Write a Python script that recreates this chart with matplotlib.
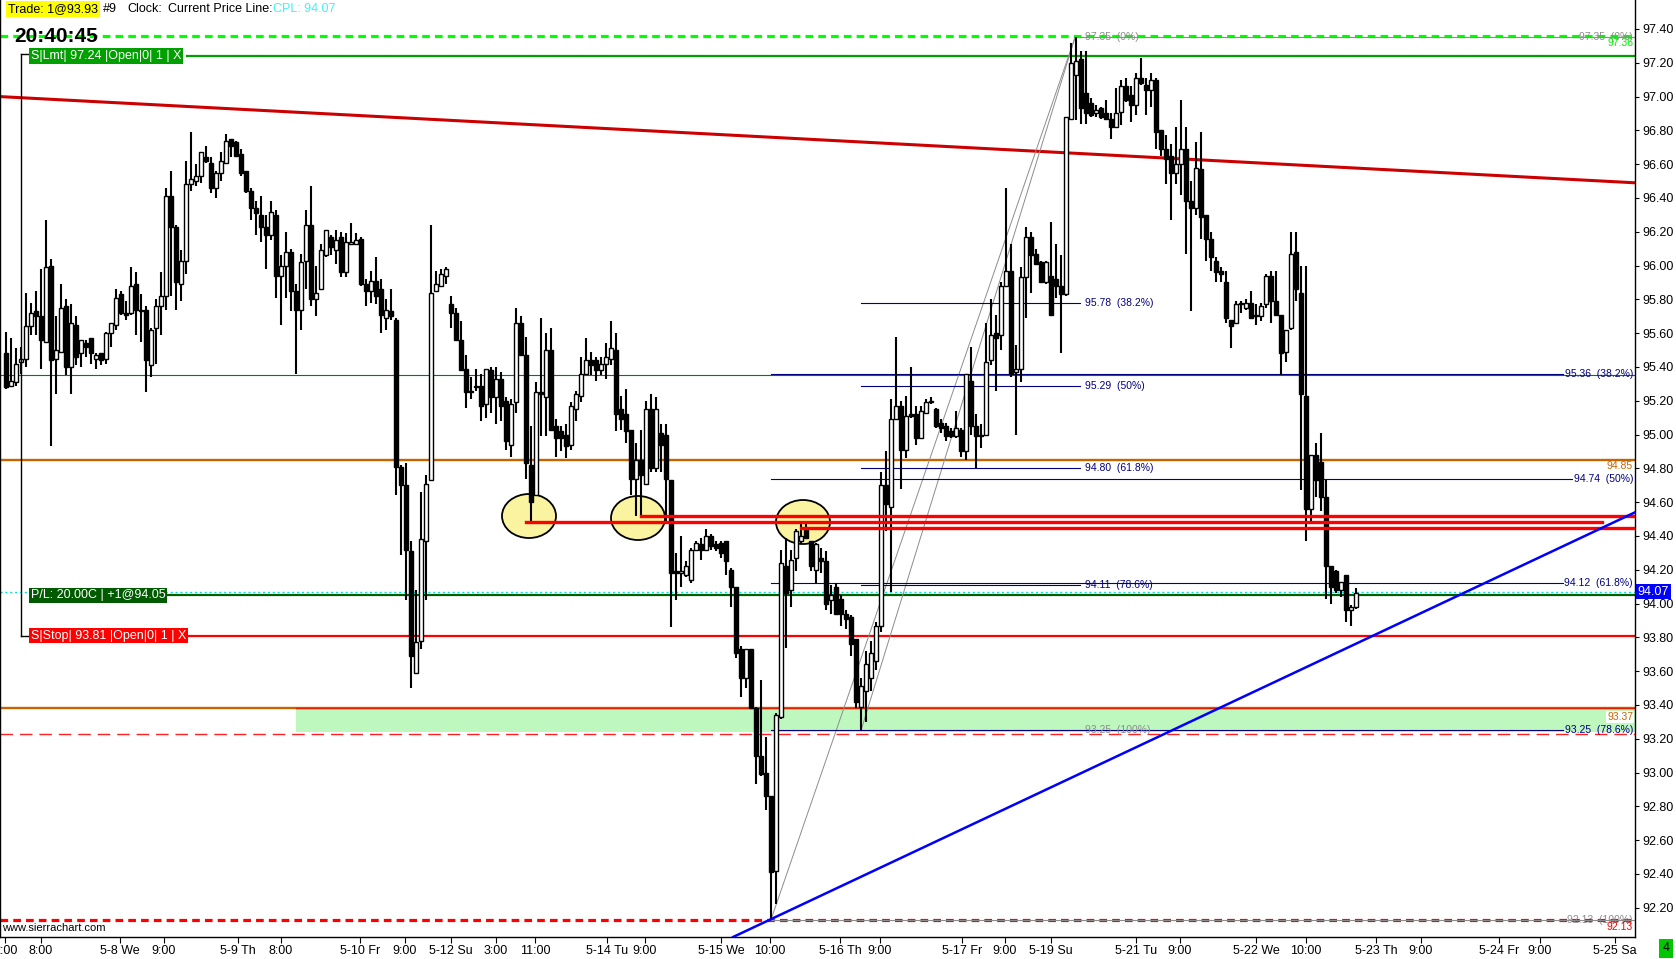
import matplotlib
matplotlib.use("Agg")
import matplotlib.pyplot as plt
import numpy as np
from matplotlib.patches import Ellipse, Rectangle

plt.rcParams['font.family'] = ['Liberation Sans', 'DejaVu Sans']

# hourly bars, crude oil, 5-7 .. 5-22
opens = [
    95.48, 95.29, 95.31, 95.43, 95.45, 95.64, 95.73, 95.70, 95.55, 96.00,
    95.45, 95.49, 95.76, 95.40, 95.65, 95.48, 95.54, 95.57, 95.45, 95.48,
    95.45, 95.60, 95.65, 95.83, 95.72, 95.72, 95.89, 95.73, 95.74, 95.41,
    95.63, 95.76, 95.82, 96.41, 96.23, 95.89, 96.03, 96.48, 96.50, 96.53,
    96.64, 96.61, 96.46, 96.55, 96.61, 96.75, 96.73, 96.66, 96.56, 96.44,
    96.34, 96.30, 96.23, 96.18, 96.30, 95.94, 96.00, 96.08, 95.85, 95.74,
    96.03, 96.24, 95.80, 95.86, 96.06, 96.17, 96.09, 96.17, 95.96, 96.13,
    96.13, 96.16, 95.89, 95.85, 95.91, 95.86, 95.69, 95.73, 95.68, 94.81,
    94.70, 94.31, 93.59, 93.78, 94.37, 94.73, 95.85, 95.88, 95.94, 95.77,
    95.72, 95.56, 95.39, 95.26, 95.29, 95.29, 95.18, 95.38, 95.22, 95.33,
    95.20, 94.94, 95.19, 95.66, 95.47, 94.82, 94.64, 95.25, 95.22, 95.50,
    95.05, 95.02, 95.00, 94.94, 95.15, 95.23, 95.36, 95.44, 95.44, 95.38,
    95.42, 95.45, 95.50, 95.15, 95.12, 95.03, 94.74, 94.85, 94.71, 95.15,
    94.80, 95.01, 95.00, 94.73, 94.19, 94.18, 94.17, 94.14, 94.32, 94.35,
    94.32, 94.40, 94.35, 94.36, 94.37, 94.20, 94.10, 93.73, 93.56, 93.73,
    93.38, 93.10, 93.00, 92.86, 92.42, 93.33, 94.22, 94.08, 94.27, 94.37,
    94.44, 94.37, 94.20, 94.27, 94.25, 94.02, 94.10, 94.03, 93.94, 93.92,
    93.79, 93.39, 93.48, 93.56, 93.66, 93.87, 94.70, 94.57, 95.09, 95.17,
    94.91, 95.12, 95.12, 94.98, 95.13, 95.19, 95.15, 95.07, 95.05, 95.02,
    94.99, 95.03, 94.90, 95.32, 95.05, 94.99, 95.00, 95.44, 95.60, 95.59,
    95.88, 95.97, 95.37, 95.39, 95.93, 96.17, 96.07, 96.02, 95.90, 95.94,
    95.92, 95.88, 95.83, 96.87, 97.13, 97.22, 97.02, 96.96, 96.90, 96.93,
    96.90, 96.87, 96.82, 96.91, 97.06, 97.01, 96.95, 97.11, 97.07, 97.04,
    97.10, 96.80, 96.69, 96.65, 96.55, 96.60, 96.69, 96.38, 96.34, 96.57,
    96.30, 96.16, 96.03, 95.97, 95.90, 95.68, 95.66, 95.78, 95.75, 95.78,
    95.70, 95.70, 95.77, 95.94, 95.79, 95.71, 95.49, 95.63, 96.08, 95.84,
    95.23, 94.56, 94.88, 94.84, 94.63, 94.22, 94.19, 94.08, 94.17, 93.96,
    93.98]
highs = [
    95.61, 95.57, 95.51, 95.52, 95.84, 95.78, 95.85, 95.98, 96.27, 96.04,
    95.70, 95.89, 95.80, 95.77, 95.70, 95.56, 95.56, 95.57, 95.48, 95.48,
    95.61, 95.66, 95.86, 95.85, 95.79, 95.99, 95.96, 95.83, 95.76, 95.63,
    95.80, 95.96, 96.46, 96.56, 96.24, 96.09, 96.62, 96.79, 96.60, 96.67,
    96.71, 96.64, 96.56, 96.67, 96.78, 96.75, 96.74, 96.69, 96.56, 96.46,
    96.38, 96.41, 96.30, 96.38, 96.33, 96.06, 96.20, 96.10, 95.89, 96.07,
    96.33, 96.47, 96.00, 96.13, 96.21, 96.18, 96.21, 96.20, 96.19, 96.25,
    96.19, 96.17, 95.92, 95.97, 96.05, 95.92, 95.80, 95.86, 95.69, 94.82,
    94.83, 94.37, 94.08, 94.66, 94.76, 96.24, 95.97, 95.98, 95.99, 95.82,
    95.75, 95.67, 95.47, 95.34, 95.39, 95.36, 95.39, 95.40, 95.40, 95.37,
    95.22, 95.21, 95.75, 95.70, 95.58, 95.05, 95.31, 95.69, 95.60, 95.63,
    95.09, 95.05, 95.06, 95.19, 95.26, 95.46, 95.57, 95.49, 95.46, 95.46,
    95.54, 95.67, 95.60, 95.23, 95.27, 95.03, 94.95, 95.03, 95.20, 95.24,
    95.22, 95.06, 95.06, 94.73, 94.30, 94.40, 94.25, 94.33, 94.37, 94.39,
    94.44, 94.41, 94.37, 94.37, 94.37, 94.21, 94.10, 93.75, 93.73, 93.73,
    93.39, 93.55, 93.21, 92.86, 93.35, 94.32, 94.39, 94.32, 94.44, 94.47,
    94.47, 94.37, 94.36, 94.33, 94.31, 94.11, 94.12, 94.05, 93.96, 93.93,
    93.79, 93.56, 93.72, 93.78, 93.89, 94.78, 94.90, 95.21, 95.58, 95.20,
    95.23, 95.40, 95.17, 95.17, 95.21, 95.22, 95.16, 95.09, 95.07, 95.04,
    95.14, 95.04, 95.36, 95.52, 95.12, 95.06, 95.66, 95.80, 95.71, 95.90,
    96.46, 96.13, 95.53, 95.99, 96.23, 96.20, 96.10, 96.03, 96.03, 96.26,
    96.13, 96.06, 96.88, 97.32, 97.35, 97.27, 97.27, 96.99, 96.95, 96.94,
    96.98, 96.90, 97.05, 97.10, 97.11, 97.06, 97.14, 97.23, 97.11, 97.14,
    97.11, 96.80, 96.77, 96.72, 96.82, 96.98, 96.82, 96.50, 96.73, 96.79,
    96.30, 96.20, 96.05, 95.99, 95.97, 95.68, 95.79, 95.79, 95.80, 95.85,
    95.77, 95.78, 95.95, 95.97, 95.97, 95.71, 95.62, 96.20, 96.20, 96.00,
    96.00, 94.88, 94.95, 95.01, 94.73, 94.22, 94.20, 94.13, 94.17, 93.99,
    94.09]
lows = [
    95.27, 95.28, 95.29, 95.36, 95.40, 95.59, 95.59, 95.39, 95.54, 94.93,
    95.24, 95.48, 95.35, 95.24, 95.41, 95.40, 95.46, 95.42, 95.39, 95.41,
    95.42, 95.52, 95.62, 95.71, 95.68, 95.71, 95.59, 95.55, 95.25, 95.34,
    95.42, 95.59, 95.74, 95.82, 95.74, 95.79, 95.95, 96.44, 96.47, 96.49,
    96.61, 96.43, 96.40, 96.50, 96.60, 96.64, 96.64, 96.53, 96.43, 96.27,
    96.18, 96.14, 95.98, 96.15, 95.81, 95.65, 95.81, 95.73, 95.36, 95.62,
    95.86, 95.76, 95.70, 95.86, 96.05, 96.06, 96.01, 95.93, 95.93, 96.13,
    96.13, 95.88, 95.76, 95.78, 95.77, 95.60, 95.62, 95.68, 94.64, 94.29,
    94.02, 93.50, 93.59, 93.73, 94.02, 94.73, 95.85, 95.88, 95.89, 95.63,
    95.56, 95.38, 95.16, 95.21, 95.26, 95.08, 95.10, 95.13, 95.06, 95.08,
    94.91, 94.87, 95.13, 95.47, 94.74, 94.48, 94.64, 94.99, 94.99, 95.06,
    94.87, 94.90, 94.86, 94.91, 95.08, 95.19, 95.36, 95.35, 95.32, 95.35,
    95.33, 95.41, 95.02, 95.03, 94.95, 94.64, 94.52, 94.52, 94.70, 94.78,
    94.78, 94.78, 94.47, 93.86, 94.02, 94.10, 94.16, 94.12, 94.31, 94.26,
    94.31, 94.32, 94.31, 94.27, 94.17, 93.98, 93.68, 93.45, 93.50, 93.38,
    92.93, 92.98, 92.78, 92.13, 92.22, 93.32, 93.74, 93.98, 94.19, 94.35,
    94.38, 94.19, 94.12, 94.18, 93.96, 93.94, 93.93, 93.87, 93.85, 93.69,
    93.38, 93.25, 93.30, 93.48, 93.61, 93.83, 94.43, 94.07, 95.09, 94.68,
    94.86, 95.10, 94.94, 94.98, 95.13, 95.18, 95.04, 95.01, 94.96, 94.98,
    94.98, 94.87, 94.85, 95.00, 94.80, 94.92, 94.99, 95.41, 95.26, 95.50,
    95.88, 95.34, 95.00, 95.31, 95.69, 95.84, 96.01, 95.90, 95.89, 95.70,
    95.81, 95.48, 95.82, 96.86, 96.86, 96.84, 96.84, 96.88, 96.88, 96.87,
    96.86, 96.75, 96.82, 96.83, 96.97, 96.85, 96.89, 97.07, 96.89, 96.94,
    96.69, 96.65, 96.48, 96.27, 96.48, 96.42, 96.07, 95.73, 96.30, 96.16,
    96.03, 95.97, 95.90, 95.90, 95.66, 95.51, 95.66, 95.72, 95.74, 95.69,
    95.65, 95.67, 95.75, 95.66, 95.70, 95.35, 95.43, 95.62, 95.79, 94.67,
    94.37, 94.47, 94.63, 94.55, 94.03, 94.00, 94.06, 94.04, 93.89, 93.87,
    93.97]
closes = [
    95.28, 95.32, 95.42, 95.45, 95.64, 95.72, 95.70, 95.56, 95.99, 95.44,
    95.50, 95.75, 95.40, 95.66, 95.46, 95.56, 95.52, 95.48, 95.47, 95.44,
    95.60, 95.66, 95.81, 95.72, 95.71, 95.88, 95.74, 95.73, 95.44, 95.62,
    95.76, 95.82, 96.41, 96.23, 95.90, 96.03, 96.48, 96.51, 96.53, 96.67,
    96.62, 96.46, 96.55, 96.62, 96.74, 96.71, 96.65, 96.55, 96.44, 96.34,
    96.31, 96.23, 96.18, 96.32, 95.94, 96.00, 96.08, 95.85, 95.74, 96.02,
    96.24, 95.80, 95.84, 96.09, 96.21, 96.11, 96.15, 95.96, 96.14, 96.13,
    96.15, 95.89, 95.85, 95.91, 95.82, 95.71, 95.74, 95.70, 94.81, 94.70,
    94.32, 93.69, 93.77, 94.38, 94.71, 95.84, 95.89, 95.95, 95.98, 95.72,
    95.56, 95.38, 95.25, 95.25, 95.28, 95.17, 95.39, 95.22, 95.33, 95.17,
    94.96, 95.18, 95.66, 95.47, 94.83, 94.60, 95.25, 95.24, 95.50, 95.03,
    94.98, 94.98, 94.93, 95.17, 95.24, 95.36, 95.44, 95.41, 95.38, 95.42,
    95.46, 95.51, 95.12, 95.09, 95.02, 94.74, 94.85, 94.76, 95.15, 94.80,
    95.15, 94.94, 94.74, 94.18, 94.18, 94.19, 94.22, 94.32, 94.36, 94.32,
    94.40, 94.34, 94.33, 94.30, 94.25, 94.10, 93.71, 93.56, 93.73, 93.38,
    93.10, 92.99, 92.86, 92.41, 93.34, 94.24, 94.06, 94.26, 94.43, 94.40,
    94.39, 94.22, 94.35, 94.25, 94.00, 94.05, 93.94, 93.94, 93.91, 93.76,
    93.42, 93.51, 93.64, 93.71, 93.87, 94.70, 94.59, 95.09, 95.17, 94.91,
    95.11, 95.11, 94.98, 95.14, 95.19, 95.20, 95.05, 95.04, 94.99, 94.99,
    95.04, 94.90, 95.36, 95.05, 94.99, 95.00, 95.43, 95.59, 95.57, 95.88,
    95.97, 95.36, 95.39, 95.93, 96.17, 96.06, 96.01, 95.90, 96.02, 95.71,
    95.88, 95.83, 96.88, 97.20, 97.21, 96.93, 96.90, 96.89, 96.92, 96.88,
    96.87, 96.82, 96.90, 97.06, 96.98, 96.95, 97.11, 97.08, 97.04, 97.10,
    96.79, 96.69, 96.63, 96.55, 96.60, 96.69, 96.38, 96.34, 96.58, 96.29,
    96.16, 96.05, 95.96, 95.95, 95.69, 95.64, 95.77, 95.77, 95.78, 95.69,
    95.71, 95.76, 95.94, 95.79, 95.71, 95.48, 95.62, 96.07, 95.86, 95.24,
    94.56, 94.88, 94.73, 94.63, 94.22, 94.10, 94.08, 94.13, 93.96, 93.98,
    94.06]

tick_labels = ["2:00", "8:00", "5-8 We", "9:00", "5-9 Th", "8:00", "5-10 Fr", "9:00",
               "5-12 Su", "3:00", "11:00", "5-14 Tu", "9:00", "5-15 We", "10:00",
               "5-16 Th", "9:00", "5-17 Fr", "9:00", "5-19 Su", "5-21 Tu", "9:00",
               "5-22 We", "10:00", "5-23 Th", "9:00", "5-24 Fr", "9:00", "5-25 Sa"]

# fib retracement 1 (93.25 -> 97.35) and 2 (92.13 -> 97.35)
fib1_levels = [95.78, 95.29, 94.80, 94.11]
fib1_names = ["95.78  (38.2%)", "95.29  (50%)", "94.80  (61.8%)", "94.11  (78.6%)"]
fib2_levels = [95.36, 94.74, 94.12, 93.25]
fib2_names = ["95.36  (38.2%)", "94.74  (50%)", "94.12  (61.8%)", "93.25  (78.6%)"]
swing_high, swing_low1, swing_low2 = 97.35, 93.25, 92.13

day_high, day_low = 97.36, 92.13
limit_px, pos_px, stop_px, cur_px = 97.24, 94.05, 93.81, 94.07
support_lines = [94.48, 94.52, 94.45]
orange_levels = [94.85, 93.38]


W, H = 1676, 959


def bx(px):
    # image pixel column -> bar index
    return (px - 6) / 5.0


def py(y):
    # image pixel row -> price
    return 97.40 - (y - 29) / 169.0


def fx(px):
    return px / W


def fy(y):
    return 1 - y / H


fig = plt.figure(figsize=(W / 100, H / 100), dpi=100)
ax = fig.add_axes([0, (H - 937) / H, 1635 / W, 937 / H])
ax.set_xlim(bx(0), bx(1635))
ax.set_ylim(py(937), py(0))
xmax = bx(1635)

navy = '#000080'
gray = '#8c8c8c'
orange = '#C86400'

# horizontal reference lines
ax.axhline(day_high, color='#00FF00', lw=2.3, dashes=(2.4, 1.6), zorder=2)
ax.axhline(day_low, color='#FF0000', lw=2.3, dashes=(2.4, 1.6), zorder=2)
ax.axhline(95.35, color='#008000', lw=0.8, zorder=2)
ax.axhline(orange_levels[0], color=orange, lw=1.7, zorder=2)
ax.axhline(orange_levels[1], color=orange, lw=1.7, zorder=2)
ax.axhline(93.23, color='#FF2020', lw=1.0, dashes=(9, 5), zorder=2)
ax.axhline(cur_px, color='#00E0E0', lw=1.0, ls=(0, (1.5, 2)), zorder=2)

ax.add_patch(Rectangle((bx(296), 93.24), xmax - bx(296), 0.14,
                       facecolor='#BEF8BE', edgecolor='none', zorder=1))
ax.plot([bx(296), xmax], [93.385, 93.385], color='#E02000', lw=1.0, zorder=2)

ax.plot([bx(187), xmax], [limit_px, limit_px], color='#00A000', lw=1.6, zorder=2)
ax.plot([bx(165), xmax], [pos_px, pos_px], color='#006000', lw=1.6, zorder=2)
ax.plot([bx(178), xmax], [stop_px, stop_px], color='#FF0000', lw=1.6, zorder=2)

# trendlines
ax.axline((bx(0), 97.00), (bx(1635), 96.49), color='#CC0000', lw=2.2, zorder=2)
ax.axline((bx(770), 92.13), (bx(1635), 94.54), color='#0000FF', lw=1.8, zorder=6)

# circled lows
for cx, cy in [(529, 516), (638, 518), (803, 522)]:
    ax.add_patch(Ellipse((bx(cx), py(cy)), 54 / 5.0, 44 / 169.0,
                         facecolor='#FAF3A0', edgecolor='black', lw=1.3, zorder=1.5))

ax.plot([bx(526), bx(1602)], [support_lines[0]] * 2, color='#FF0000', lw=2.4, zorder=5)
ax.plot([bx(641), xmax], [support_lines[1]] * 2, color='#FF0000', lw=2.4, zorder=5)
ax.plot([bx(801), xmax], [support_lines[2]] * 2, color='#FF0000', lw=2.4, zorder=5)

# fib tools
i_low2, i_low1, i_high = 153, 171, 213.8
ax.plot([i_low2, i_high], [swing_low2, swing_high], color=gray, lw=0.7, zorder=2)
ax.plot([i_low1, i_high], [swing_low1, swing_high], color=gray, lw=0.7, zorder=2)
ax.plot([i_high, xmax], [swing_high, swing_high], color=gray, lw=0.8, zorder=2)
ax.plot([i_low2, xmax], [swing_low2, swing_low2], color=gray, lw=0.8, zorder=2)
ax.plot([i_low1, bx(1080)], [swing_low1, swing_low1], color=gray, lw=0.8, zorder=2)
for lv, nm in zip(fib1_levels, fib1_names):
    ax.plot([i_low1, bx(1080)], [lv, lv], color=navy, lw=0.8, zorder=2)
    ax.text(bx(1085), lv, nm, color=navy, fontsize=7.5, va='center', ha='left', zorder=7)
ax.text(bx(1085), swing_high, "97.35  (0%)", color=gray, fontsize=7.5, va='center', zorder=7)
ax.text(bx(1085), swing_low1, "93.25  (100%)", color=gray, fontsize=7.5, va='center', zorder=7)
for lv, nm in zip(fib2_levels, fib2_names):
    ax.plot([i_low2, bx(1563 if len(nm) > 12 else 1572)], [lv, lv],
            color=navy, lw=0.8, zorder=2)
    ax.text(bx(1633), lv, nm, color=navy, fontsize=7.5, va='center', ha='right', zorder=7)
ax.text(bx(1633), swing_high + 0.005, "97.35  (0%)", color=gray, fontsize=7.5,
        va='center', ha='right', zorder=7)
ax.text(bx(1633), swing_low2, "92.13  (100%)", color=gray, fontsize=7.5,
        va='center', ha='right', zorder=7)
ax.text(bx(1633), py(43), "97.36", color='#00F000', fontsize=7.5, va='center', ha='right', zorder=7)
ax.text(bx(1633), py(466), "94.85", color=orange, fontsize=7.5, va='center', ha='right', zorder=7)
ax.text(bx(1633), py(717), "93.37", color=orange, fontsize=7.5, va='center', ha='right', zorder=7,
        bbox=dict(facecolor='white', edgecolor='none', pad=0.5))
ax.text(bx(1633), py(927), "92.13", color='#FF0000', fontsize=7.5, va='center', ha='right', zorder=7)

# candles
x = np.arange(len(closes))
o = np.array(opens)
c = np.array(closes)
up = c >= o
bottoms = np.minimum(o, c)
heights = np.maximum(np.abs(c - o), 0.008)
ax.vlines(x, lows, highs, color='black', lw=1.5, zorder=3)
ax.bar(x, heights, bottom=bottoms, width=0.78,
       color=np.where(up, 'white', 'black'), edgecolor='black', linewidth=1.0, zorder=4)

# order labels
ax.plot([bx(21), bx(21)], [py(54), py(636)], color='black', lw=1.0, zorder=6)
ax.plot([bx(21), bx(30)], [py(54), py(54)], color='black', lw=1.0, zorder=6)
ax.plot([bx(21), bx(30)], [py(636), py(636)], color='black', lw=1.0, zorder=6)
ax.text(bx(31), limit_px, "S|Lmt| 97.24 |Open|0| 1 | X", color='white', fontsize=9,
        va='center', ha='left', zorder=8,
        bbox=dict(facecolor='#00A000', edgecolor='none', pad=1.2))
ax.text(bx(31), pos_px, "P/L: 20.00C | +1@94.05", color='white', fontsize=9,
        va='center', ha='left', zorder=8,
        bbox=dict(facecolor='#005A00', edgecolor='none', pad=1.2))
ax.text(bx(31), stop_px, "S|Stop| 93.81 |Open|0| 1 | X", color='white', fontsize=9,
        va='center', ha='left', zorder=8,
        bbox=dict(facecolor='#FF0000', edgecolor='none', pad=1.2))

# axes styling
ax.spines['top'].set_visible(False)
for s in ['left', 'right', 'bottom']:
    ax.spines[s].set_linewidth(1.0)
ax.yaxis.tick_right()
yt = np.round(np.arange(92.2, 97.41, 0.2), 2)
ax.set_yticks(yt)
ax.set_yticklabels(['%.2f' % v for v in yt])
tick_px = [5, 41, 120, 164, 238, 281, 360, 405, 451, 496, 535, 607, 645, 721, 770,
           840, 880, 962, 1005, 1051, 1136, 1180, 1256, 1306, 1376, 1421, 1499, 1540, 1615]
ax.set_xticks([bx(p) for p in tick_px])
ax.set_xticklabels(tick_labels)
ax.tick_params(axis='y', direction='out', length=3, pad=2, labelsize=9)
ax.tick_params(axis='x', direction='out', length=4, pad=2, labelsize=9)

ax.annotate("94.07", xy=(1.0, cur_px), xycoords=('axes fraction', 'data'),
            xytext=(2, 0), textcoords='offset points', color='white', fontsize=9,
            va='center', ha='left', annotation_clip=False, zorder=9,
            bbox=dict(facecolor='#0000FF', edgecolor='none', pad=1.0))

# header
fig.text(fx(8), fy(9), "Trade: 1@93.93", fontsize=9, va='center', ha='left',
         bbox=dict(facecolor='#FFFF00', edgecolor='none', pad=1.5))
fig.text(fx(103), fy(9), "#9", fontsize=9, va='center')
fig.text(fx(127), fy(9), "Clock:", fontsize=9, va='center')
fig.text(fx(168), fy(9), "Current Price Line:", fontsize=9, va='center')
fig.text(fx(273), fy(9), "CPL: 94.07", fontsize=9, va='center', color='#40F0FF')
fig.text(fx(14), fy(37), "20:40:45", fontsize=15, fontweight='bold', va='center')
fig.text(fx(2), fy(928), "www.sierrachart.com", fontsize=8, va='center')
fig.text(fx(1666), fy(948), "4", fontsize=9, va='center', ha='center',
         bbox=dict(facecolor='#00C800', edgecolor='none', pad=2.5))

fig.savefig("out.png", dpi=100)
